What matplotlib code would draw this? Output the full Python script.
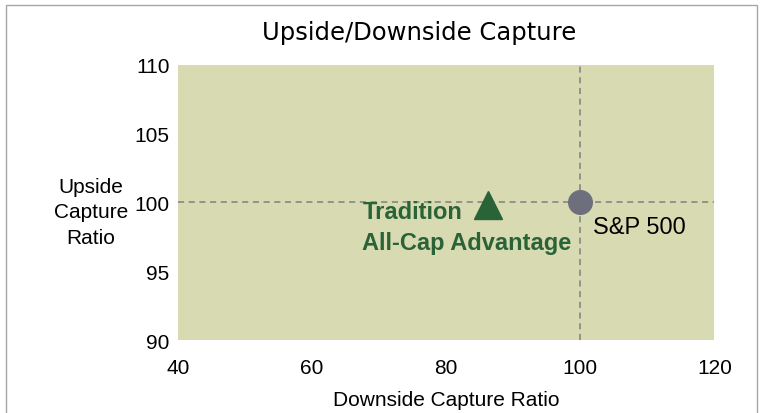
import matplotlib.pyplot as plt
from matplotlib.patches import Rectangle

# donnees
noms = ['Tradition\nAll-Cap Advantage', 'S&P 500']
downside = [86.3, 100.0]
upside = [99.8, 100.0]
xlim = [40, 120]
ylim = [90, 110]
xticks = [40, 60, 80, 100, 120]
yticks = [90, 95, 100, 105, 110]

fond = '#D8DAB2'
vert = '#2A6338'
gris_point = '#6E6F7D'

fig = plt.figure(figsize=(7.64, 4.14), dpi=100)
fig.patches.append(Rectangle((0.008, -0.01), 0.983, 0.996, transform=fig.transFigure,
                             fill=False, edgecolor='#A6A6A6', linewidth=1.0))

ax = fig.add_axes([0.233, 0.176, 0.702, 0.665])
ax.set_facecolor(fond)
for s in ax.spines.values():
    s.set_visible(False)

ax.set_xlim(xlim)
ax.set_ylim(ylim)
ax.set_xticks(xticks)
ax.set_yticks(yticks)
ax.tick_params(length=0, labelsize=15, pad=6)
ax.tick_params(axis='x', pad=13)
for lab in ax.get_xticklabels() + ax.get_yticklabels():
    lab.set_fontfamily('Liberation Sans')

# lignes de reference (S&P 500 = 100/100)
ax.axhline(upside[1], color='#7F7F7F', linestyle=(0, (4, 3)), linewidth=1.1, zorder=1)
ax.axvline(downside[1], color='#7F7F7F', linestyle=(0, (4, 3)), linewidth=1.1, zorder=1)

ax.plot(downside[0], upside[0], marker='^', markersize=20, color=vert,
        markeredgecolor=vert, linestyle='none', zorder=3)
ax.plot(downside[1], upside[1], marker='o', markersize=17, color=gris_point,
        markeredgecolor=gris_point, linestyle='none', zorder=3)

ax.annotate(noms[0], (downside[0], upside[0]), xytext=(-126, -22), textcoords='offset pixels',
            ha='left', va='center', fontsize=17, fontweight='bold', color=vert,
            family='Liberation Sans', linespacing=1.45)
ax.annotate(noms[1], (downside[1], upside[1]), xytext=(13, -25), textcoords='offset pixels',
            ha='left', va='center', fontsize=17, color='black', family='Liberation Sans')

ax.set_xlabel('Downside Capture Ratio', fontsize=15, family='Liberation Sans', labelpad=9)
ax.set_ylabel('Upside\nCapture\nRatio', fontsize=15, family='Liberation Sans',
              rotation=0, ha='center', va='center', linespacing=1.43)
ax.yaxis.set_label_coords(-0.162, 0.467)

fig.text(0.548, 0.92, 'Upside/Downside Capture', ha='center', va='center',
         fontsize=17.5, family='DejaVu Sans')

fig.savefig('out.png', dpi=100)
